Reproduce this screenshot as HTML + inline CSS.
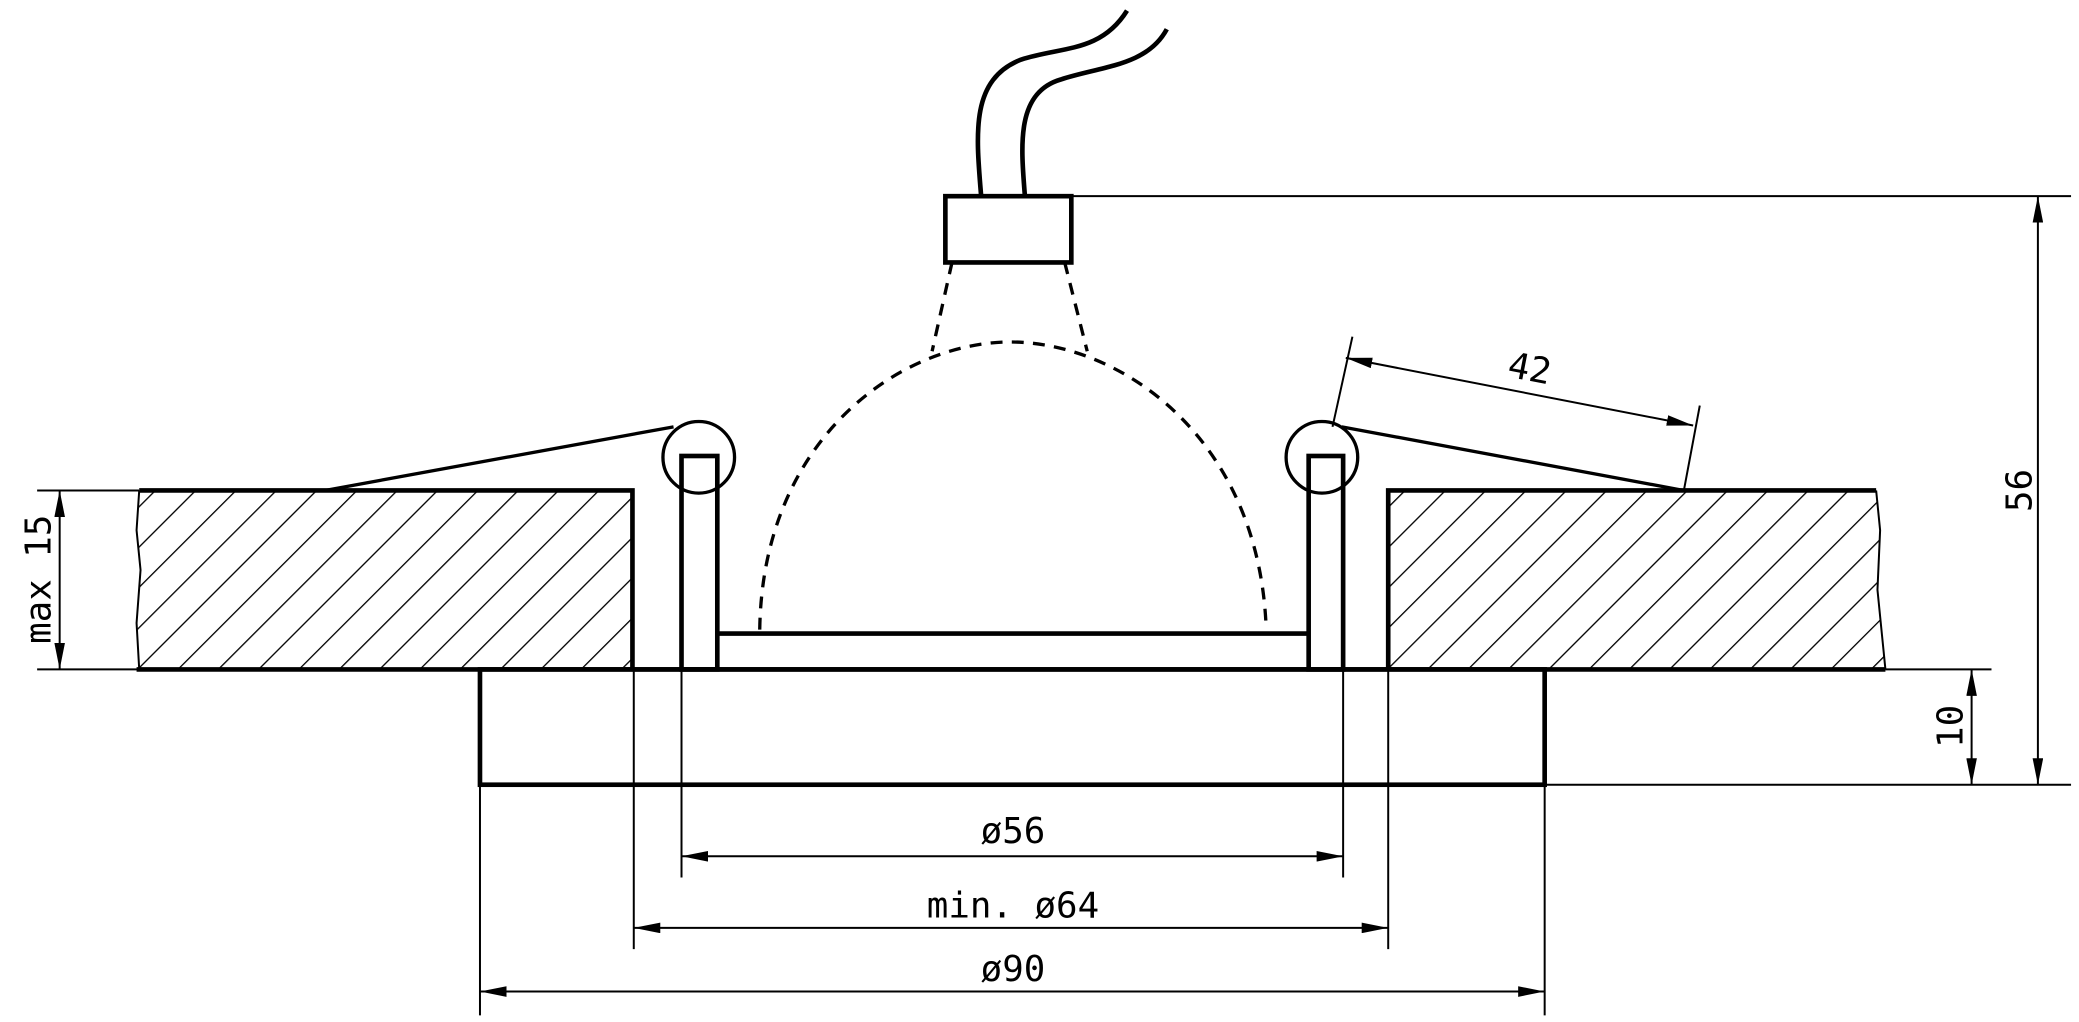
<!DOCTYPE html>
<html><head><meta charset="utf-8"><style>
html,body{margin:0;padding:0;background:#fff;}
svg{display:block;}
text{font-family:"DejaVu Sans Mono","Liberation Mono",monospace;font-size:27px;fill:#000;}
</style></head><body>
<svg width="2079" height="1022" viewBox="0 0 1568 771" preserveAspectRatio="none" xmlns="http://www.w3.org/2000/svg">
<defs>
<pattern id="h" patternUnits="userSpaceOnUse" width="21.5" height="21.5" patternTransform="rotate(45)">
<line x1="0" y1="0" x2="0" y2="21.5" stroke="#000" stroke-width="2"/>
</pattern>
<marker id="a" viewBox="0 0 20 8" refX="20" refY="4" markerWidth="20" markerHeight="8" markerUnits="userSpaceOnUse" orient="auto-start-reverse">
<path d="M0,0 L20,4 L0,8 Z" fill="#000"/>
</marker>
</defs>
<path d="M105,370 L477,370 L477,505 L105,505 L103,470 L106,430 L103,400 Z" fill="url(#h)"/>
<path d="M1047,370 L1415,370 L1418,400 L1416,445 L1422,505 L1047,505 Z" fill="url(#h)"/>
<g fill="none" stroke="#000" stroke-width="3.5">
<path d="M105,370 L477,370 L477,505"/>
<path d="M1047,505 L1047,370 L1415,370"/>
<line x1="103" y1="505" x2="1422" y2="505"/>
<rect x="362" y="505" width="803" height="87"/>
<rect x="514" y="344" width="27" height="161"/>
<rect x="987" y="344" width="26" height="161"/>
<line x1="541" y1="478" x2="987" y2="478"/>
<rect x="713" y="148" width="95" height="50"/>
<path d="M740,148 C736,100 732,60 770,45 C800,35 830,40 850,8"/>
<path d="M773,148 C770,110 766,70 800,60 C830,50 865,50 880,22"/>
</g>
<g fill="none" stroke="#000" stroke-width="1.5">
<path d="M105,370 L103,400 L106,430 L103,470 L105,505"/>
<path d="M1415,370 L1418,400 L1416,445 L1422,505"/>
</g>
<g fill="none" stroke="#000" stroke-width="2.5">
<circle cx="527" cy="345" r="27"/>
<circle cx="997" cy="345" r="27"/>
<line x1="245" y1="370" x2="508" y2="322"/>
<line x1="1012" y1="322" x2="1270" y2="370"/>
</g>
<g fill="none" stroke="#000" stroke-width="2.5" stroke-dasharray="9,7">
<path d="M718,198 L703,265"/>
<path d="M803,198 L820,265"/>
<path d="M573,475 C575,330 680,258 762,258 C845,258 950,330 955,475"/>
</g>
<g stroke="#000" stroke-width="1.5" fill="none">
<line x1="808" y1="148" x2="1562" y2="148"/>
<line x1="1165" y1="592" x2="1562" y2="592"/>
<line x1="1537" y1="148" x2="1537" y2="592" marker-start="url(#a)" marker-end="url(#a)"/>
<line x1="1422" y1="505" x2="1502" y2="505"/>
<line x1="1487" y1="505" x2="1487" y2="592" marker-start="url(#a)" marker-end="url(#a)"/>
<line x1="28" y1="370" x2="105" y2="370"/>
<line x1="28" y1="505" x2="105" y2="505"/>
<line x1="45" y1="370" x2="45" y2="505" marker-start="url(#a)" marker-end="url(#a)"/>
<line x1="1020" y1="254" x2="1005" y2="322"/>
<line x1="1282" y1="306" x2="1270" y2="370"/>
<line x1="1015" y1="270" x2="1277" y2="321" marker-start="url(#a)" marker-end="url(#a)"/>
<line x1="514" y1="505" x2="514" y2="662"/>
<line x1="1013" y1="505" x2="1013" y2="662"/>
<line x1="514" y1="646" x2="1013" y2="646" marker-start="url(#a)" marker-end="url(#a)"/>
<line x1="478" y1="505" x2="478" y2="716"/>
<line x1="1047" y1="505" x2="1047" y2="716"/>
<line x1="478" y1="700" x2="1047" y2="700" marker-start="url(#a)" marker-end="url(#a)"/>
<line x1="362" y1="592" x2="362" y2="766"/>
<line x1="1165" y1="592" x2="1165" y2="766"/>
<line x1="362" y1="748" x2="1165" y2="748" marker-start="url(#a)" marker-end="url(#a)"/>
</g>
<text x="764" y="636" text-anchor="middle">ø56</text>
<text x="764" y="692" text-anchor="middle">min. ø64</text>
<text x="764" y="740" text-anchor="middle">ø90</text>
<text transform="translate(1152,287) rotate(11)" text-anchor="middle">42</text>
<text transform="translate(1532,370) rotate(-90)" text-anchor="middle">56</text>
<text transform="translate(1480,548) rotate(-90)" text-anchor="middle">10</text>
<text transform="translate(38,437) rotate(-90)" text-anchor="middle">max 15</text>
</svg>
</body></html>
